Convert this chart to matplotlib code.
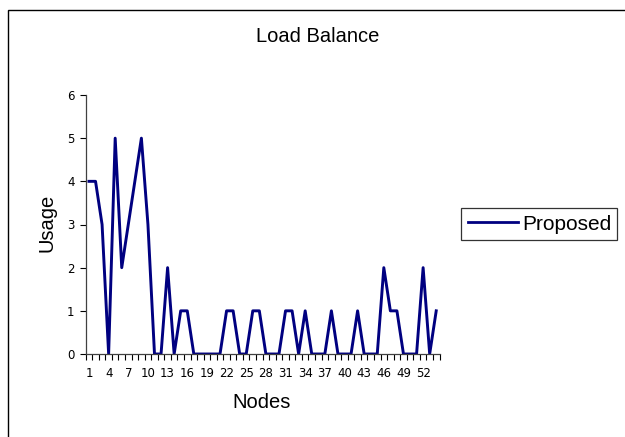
import matplotlib
matplotlib.use("Agg")
import matplotlib.pyplot as plt
from matplotlib.patches import Rectangle
from matplotlib.ticker import FixedLocator, NullFormatter

plt.rcParams['font.family'] = ['Liberation Sans', 'DejaVu Sans']

nodes = list(range(1, 55))
usage = [4, 4, 3, 0, 5, 2, 3, 4, 5, 3,
         0, 0, 2, 0, 1, 1, 0, 0, 0, 0,
         0, 1, 1, 0, 0, 1, 1, 0, 0, 0,
         1, 1, 0, 1, 0, 0, 0, 1, 0, 0,
         0, 1, 0, 0, 0, 2, 1, 1, 0, 0,
         0, 2, 0, 1]
series_name = "Proposed"
title = "Load Balance"
xlabel = "Nodes"
ylabel = "Usage"

W, H = 625, 437
fig = plt.figure(figsize=(W / 100, H / 100), dpi=100)
fig.patch.set_facecolor('white')

# outer chart frame (cropped at right/bottom)
fig.add_artist(Rectangle((8 / W, -0.1), 2.0, (H - 10) / H + 0.1,
                         transform=fig.transFigure, fill=False,
                         edgecolor='black', linewidth=1.0))

ax = fig.add_axes([85.7 / W, 1 - 354 / H, (439.5 - 85.7) / W, (354 - 95) / H])
line, = ax.plot(nodes, usage, color='#000080', linewidth=2.1, label=series_name)

ax.set_xlim(0.5, len(nodes) + 0.5)
ax.set_ylim(0, 6)
ax.set_yticks(range(0, 7))

ax.xaxis.set_major_locator(FixedLocator(nodes[::3]))
ax.xaxis.set_minor_locator(FixedLocator([n + 0.5 for n in range(0, len(nodes) + 1)]))
ax.xaxis.set_minor_formatter(NullFormatter())
ax.tick_params(axis='x', which='major', length=0, pad=9.5)
ax.tick_params(axis='x', which='minor', length=4, width=0.8, direction='out', color='black')
ax.tick_params(axis='y', which='major', length=4, width=0.8, direction='out', pad=4)
for lab in ax.get_xticklabels() + ax.get_yticklabels():
    lab.set_fontfamily('DejaVu Sans')
    lab.set_fontsize(8.5)

for s in ['top', 'right']:
    ax.spines[s].set_visible(False)
for s in ['left', 'bottom']:
    ax.spines[s].set_color('#404040')
    ax.spines[s].set_linewidth(0.9)

fig.text(318 / W, 1 - 36 / H, title, ha='center', va='center', fontsize=14.5)
fig.text(262 / W, 1 - 402 / H, xlabel, ha='center', va='center', fontsize=14.5)
fig.text(47 / W, 1 - 223 / H, ylabel, ha='center', va='center', fontsize=14.5, rotation=90)

leg = fig.legend(handles=[line], loc='center left',
                 bbox_to_anchor=(461.5 / W, 1 - 224 / H),
                 fontsize=15, frameon=True, fancybox=False,
                 handlelength=2.4, handletextpad=0.2, borderpad=0.3,
                 borderaxespad=0)
leg.get_frame().set_edgecolor('black')
leg.get_frame().set_linewidth(0.9)
leg.get_lines()[0].set_linewidth(2.0)

fig.savefig('out.png', dpi=100)
